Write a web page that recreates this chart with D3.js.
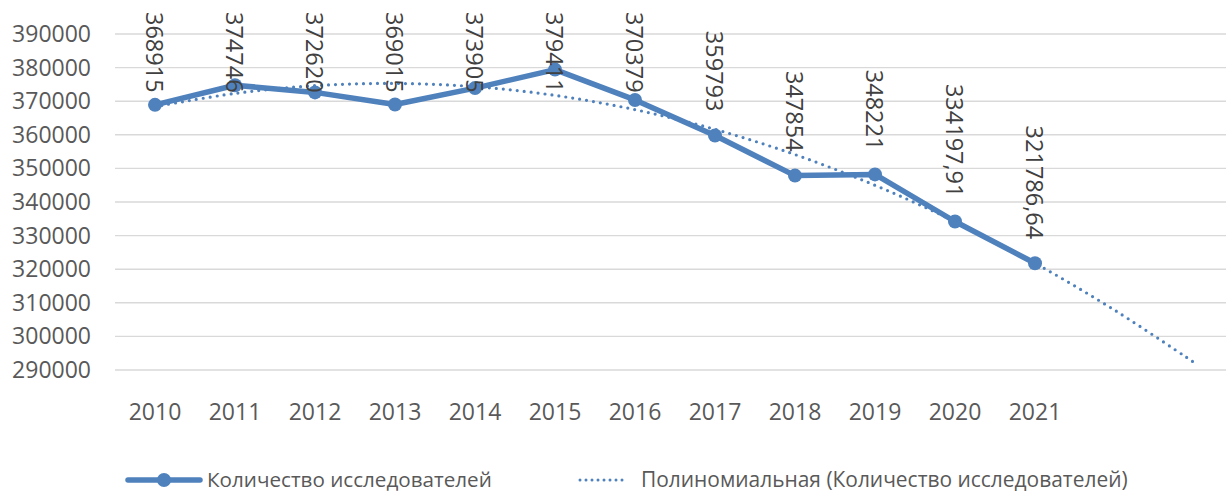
<!DOCTYPE html>
<html lang="ru">
<head>
<meta charset="UTF-8">
<title>Количество исследователей</title>
<script src="https://d3js.org/d3.v7.min.js"></script>
<style>
  body { margin: 0; background: #fff; }
  svg { display: block; font-family: "Open Sans", "DejaVu Sans", sans-serif; }
  .grid line { stroke: #d9d9d9; stroke-width: 1.4; }
  .tick-label { fill: #595959; font-size: 23px; }
  .data-label { fill: #404040; font-size: 23.5px; }
  .legend text { fill: #595959; font-size: 20px; }
</style>
</head>
<body>
<div id="chart"></div>
<script>
// years shown on the axis
var years = ["2010", "2011", "2012", "2013", "2014", "2015", "2016",
             "2017", "2018", "2019", "2020", "2021"];
// trend runs two periods past the data
var trendYears = years.concat(["2022", "2023"]);

var researchers = [368915, 374746, 372620, 369015, 373905, 379411, 370379,
                   359793, 347854, 348221, 334197.91, 321786.64];
var labels = ["368915", "374746", "372620", "369015", "373905", "379411", "370379",
              "359793", "347854", "348221", "334197,91", "321786,64"];

// polynomial trend values
var trend = [368375, 372316, 374622, 375292, 374327, 371727, 367491,
             361620, 354115, 344973, 334198, 321786, 307740, 292059];

var yTicks = [290000, 300000, 310000, 320000, 330000, 340000, 350000,
              360000, 370000, 380000, 390000];

var legendNames = ["Количество исследователей",
                   "Полиномиальная (Количество исследователей)"];

var width = 1226, height = 493;
var blue = "#4f81bd";
var legendY = 480;

var svg = d3.select("#chart").append("svg")
    .attr("width", width)
    .attr("height", height);

var x = d3.scaleBand()
    .domain(trendYears)
    .range([115, 1235]);

var y = d3.scaleLinear()
    .domain([290000, 390000])
    .range([370, 34]);

function cx(d) { return x(d) + x.bandwidth() / 2; }

// gridlines
svg.append("g").attr("class", "grid")
  .selectAll("line")
  .data(yTicks)
  .enter().append("line")
    .attr("x1", 115).attr("x2", width)
    .attr("y1", function(d) { return y(d); })
    .attr("y2", function(d) { return y(d); });

// y axis labels
svg.append("g")
  .selectAll("text")
  .data(yTicks)
  .enter().append("text")
    .attr("class", "tick-label")
    .attr("x", 91)
    .attr("y", function(d) { return y(d); })
    .attr("dy", "0.35em")
    .attr("text-anchor", "end")
    .text(function(d) { return d; });

// x axis labels
svg.append("g")
  .selectAll("text")
  .data(years)
  .enter().append("text")
    .attr("class", "tick-label")
    .attr("x", function(d) { return cx(d); })
    .attr("y", 412)
    .attr("dy", "0.35em")
    .attr("text-anchor", "middle")
    .text(function(d) { return d; });

// trend line
var trendLine = d3.line()
    .curve(d3.curveCatmullRom)
    .x(function(d, i) { return cx(trendYears[i]); })
    .y(function(d) { return y(d); });

svg.append("path")
    .datum(trend)
    .attr("d", trendLine)
    .attr("fill", "none")
    .attr("stroke", blue)
    .attr("stroke-width", 3.2)
    .attr("stroke-linecap", "round")
    .attr("stroke-dasharray", "0 7");

// data line
var line = d3.line()
    .x(function(d, i) { return cx(years[i]); })
    .y(function(d) { return y(d); });

svg.append("path")
    .datum(researchers)
    .attr("d", line)
    .attr("fill", "none")
    .attr("stroke", blue)
    .attr("stroke-width", 5.5)
    .attr("stroke-linejoin", "round");

svg.append("g")
  .selectAll("circle")
  .data(researchers)
  .enter().append("circle")
    .attr("cx", function(d, i) { return cx(years[i]); })
    .attr("cy", function(d) { return y(d); })
    .attr("r", 7)
    .attr("fill", blue);

// data labels, rotated, kept inside the chart top
var dl = svg.append("g")
  .selectAll("text")
  .data(researchers)
  .enter().append("text")
    .attr("class", "data-label")
    .attr("dominant-baseline", "central")
    .text(function(d, i) { return labels[i]; });

dl.each(function(d, i) {
  var len = this.getComputedTextLength();
  var top = Math.max(12, y(d) - 24 - len);
  d3.select(this)
    .attr("transform", "translate(" + cx(years[i]) + "," + top + ") rotate(90)");
});

// legend
var legend = svg.append("g").attr("class", "legend");

legend.append("line")
    .attr("x1", 128).attr("x2", 200)
    .attr("y1", legendY).attr("y2", legendY)
    .attr("stroke", blue).attr("stroke-width", 5.5)
    .attr("stroke-linecap", "round");
legend.append("circle")
    .attr("cx", 164).attr("cy", legendY).attr("r", 7)
    .attr("fill", blue);

legend.append("line")
    .attr("x1", 580).attr("x2", 628)
    .attr("y1", legendY).attr("y2", legendY)
    .attr("stroke", blue).attr("stroke-width", 3)
    .attr("stroke-linecap", "round")
    .attr("stroke-dasharray", "0 6");

// size each legend text so it spans the same width as in the picture
var legendText = [{x: 207, w: 285}, {x: 641, w: 487}];
legend.selectAll("text.item")
  .data(legendNames)
  .enter().append("text")
    .attr("class", "item")
    .attr("x", function(d, i) { return legendText[i].x; })
    .attr("y", legendY)
    .attr("dy", "0.35em")
    .text(function(d) { return d; })
    .each(function(d, i) {
      var len = this.getComputedTextLength();
      d3.select(this).style("font-size", (20 * legendText[i].w / len) + "px");
    });
</script>
</body>
</html>
